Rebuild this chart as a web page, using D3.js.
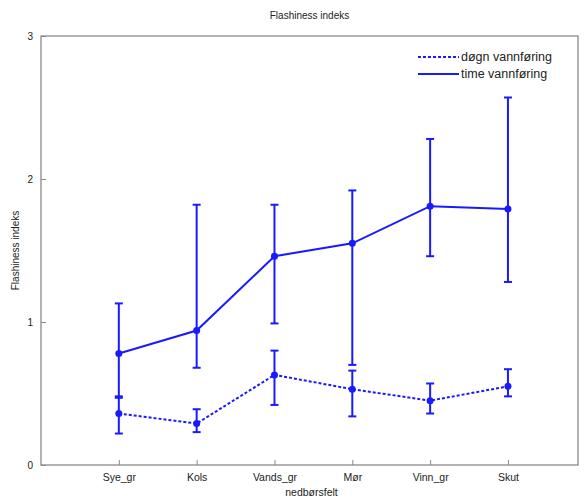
<!DOCTYPE html>
<html>
<head>
<meta charset="utf-8">
<script src="https://cdn.jsdelivr.net/npm/d3@7"></script>
<style>
  body { margin: 0; background: #fff; }
  text { font-family: "Liberation Sans", Arial, sans-serif; fill: #222; }
</style>
</head>
<body>
<script>
const categories = ["Sye_gr", "Kols", "Vands_gr", "Mør", "Vinn_gr", "Skut"];

// time vannføring (solid)
const timeMean  = [0.78, 0.94, 1.46, 1.55, 1.81, 1.79];
const timeUpper = [1.13, 1.82, 1.82, 1.92, 2.28, 2.57];
const timeLower = [0.48, 0.68, 0.99, 0.70, 1.46, 1.28];

// døgn vannføring (dashed)
const dognMean  = [0.36, 0.29, 0.63, 0.53, 0.45, 0.55];
const dognUpper = [0.47, 0.39, 0.80, 0.66, 0.57, 0.67];
const dognLower = [0.22, 0.23, 0.42, 0.34, 0.36, 0.48];

const yTicks = [0, 1, 2, 3];

const margin = {top: 36, right: 6, bottom: 36, left: 41};
const width = 584 - margin.left - margin.right,
    height = 501 - margin.top - margin.bottom;

const svg = d3.select('body').append('svg')
    .attr('width', 584)
    .attr('height', 501);

const g = svg.append('g')
    .attr('transform', `translate(${margin.left}, ${margin.top})`);

const scaleX = d3.scaleLinear()
    .domain([0, 6.9])
    .range([0, width]);

const scaleY = d3.scaleLinear()
    .domain([0, 3])
    .range([height, 0]);

// box
g.append('rect')
    .attr('width', width).attr('height', height)
    .attr('fill', 'none').attr('stroke', '#666').attr('stroke-width', 1);

const yAxis = d3.axisLeft(scaleY).tickValues(yTicks).tickFormat(d3.format('d'))
    .tickSizeInner(-5).tickSizeOuter(0).tickPadding(8);
g.append('g').call(yAxis)
    .call(a => a.select('.domain').remove())
    .call(a => a.selectAll('line').attr('stroke', '#888'))
    .call(a => a.selectAll('text').attr('font-size', 10));

const xAxis = d3.axisBottom(scaleX).tickValues(d3.range(1, categories.length + 1))
    .tickFormat(i => categories[i - 1])
    .tickSizeInner(-5).tickSizeOuter(0).tickPadding(9);
g.append('g').attr('transform', `translate(0, ${height})`).call(xAxis)
    .call(a => a.select('.domain').remove())
    .call(a => a.selectAll('line').attr('stroke', '#888'))
    .call(a => a.selectAll('text').attr('font-size', 10.5));

const series = [
  {name: 'døgn vannføring', mean: dognMean, up: dognUpper, lo: dognLower, dash: '3,2'},
  {name: 'time vannføring', mean: timeMean, up: timeUpper, lo: timeLower, dash: null}
];

const blue = '#1a1aff';
const line = d3.line().x((d, i) => scaleX(i + 1)).y(d => scaleY(d));

series.forEach(s => {
  const sg = g.append('g');
  sg.append('path').datum(s.mean)
      .attr('d', line).attr('fill', 'none')
      .attr('stroke', blue).attr('stroke-width', 2)
      .attr('stroke-dasharray', s.dash);
  const eb = sg.selectAll('g.eb').data(s.mean).enter().append('g');
  eb.append('line')
      .attr('x1', (d, i) => scaleX(i + 1)).attr('x2', (d, i) => scaleX(i + 1))
      .attr('y1', (d, i) => scaleY(s.up[i])).attr('y2', (d, i) => scaleY(s.lo[i]))
      .attr('stroke', blue).attr('stroke-width', 2);
  [s.up, s.lo].forEach(arr => {
    eb.append('line')
        .attr('x1', (d, i) => scaleX(i + 1) - 4).attr('x2', (d, i) => scaleX(i + 1) + 4)
        .attr('y1', (d, i) => scaleY(arr[i])).attr('y2', (d, i) => scaleY(arr[i]))
        .attr('stroke', blue).attr('stroke-width', 2);
  });
  eb.append('circle')
      .attr('cx', (d, i) => scaleX(i + 1)).attr('cy', d => scaleY(d))
      .attr('r', 3.5).attr('fill', blue);
});

// legend
const legend = g.append('g').attr('transform', `translate(${width - 160}, 0)`);
series.forEach((s, i) => {
  const y = 21 + i * 17;
  legend.append('line')
      .attr('x1', 0).attr('x2', 41).attr('y1', y).attr('y2', y)
      .attr('stroke', blue).attr('stroke-width', 2)
      .attr('stroke-dasharray', s.dash);
  legend.append('text')
      .attr('x', 43).attr('y', y + 4)
      .attr('font-size', 12.5).text(s.name);
});

// titles
svg.append('text').attr('x', margin.left + width / 2).attr('y', 19)
    .attr('text-anchor', 'middle').attr('font-size', 10).text('Flashiness indeks');
svg.append('text').attr('x', margin.left + width / 2 + 2).attr('y', 496)
    .attr('text-anchor', 'middle').attr('font-size', 10.5).text('nedbørsfelt');
svg.append('text')
    .attr('transform', `translate(19, ${margin.top + height / 2}) rotate(-90)`)
    .attr('text-anchor', 'middle').attr('font-size', 10).text('Flashiness indeks');
</script>
</body>
</html>
